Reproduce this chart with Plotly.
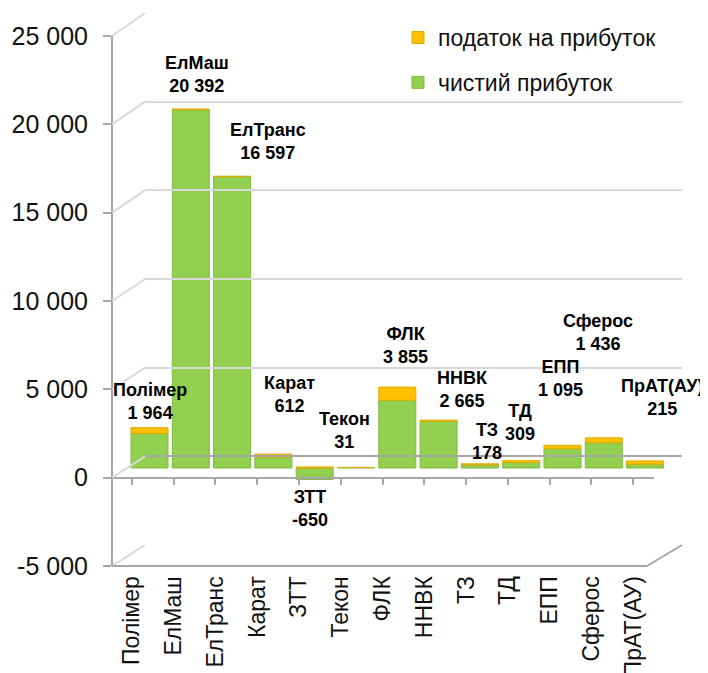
import plotly.graph_objects as go

# ---------------- data ----------------
companies = ["Полімер", "ЕлМаш", "ЕлТранс", "Карат", "ЗТТ", "Текон", "ФЛК",
             "ННВК", "ТЗ", "ТД", "ЕПП", "Сферос", "ПрАТ(АУ)"]
net_profit = [1964, 20392, 16597, 612, -650, 31, 3855, 2665, 178, 309, 1095, 1436, 215]
profit_tax = [330, 40, 0, 180, 60, 0, 750, 60, 60, 110, 200, 280, 190]
y_ticks = [-5000, 0, 5000, 10000, 15000, 20000, 25000]
y_ticktext = ["-5 000", "0", "5 000", "10 000", "15 000", "20 000", "25 000"]

# label anchor positions (category offset, y in axis units) - layout only
label_dx = [0.0, 0.15, 0.87, 0.40, -0.11, -0.27, 0.19, 0.57, 0.17, -0.03, -0.06, -0.14, 0.42]
label_y = [3800, 22400, 18600, 4200, -2300, 2150, 7000, 4450, 1500, 2600, 5100, 7700, 4000]

OFF = 8  # page body margin of the html page
W, H = 708 - OFF, 673 - OFF
GREEN = "#92D050"
ORANGE = "#FFC000"
GRID = "#d9d9d9"
AXIS = "#a6a6a6"
FONT = "Liberation Sans, Arial, sans-serif"


def px_x(p):
    return (p - OFF) / W


def px_y(p):
    return 1 - (p - OFF) / H


# geometry (page pixels) of the pseudo-3D box
FRONT_LEFT, FRONT_RIGHT = 112, 647
BACK_LEFT, BACK_RIGHT = 145, 682
FRONT_TOP, FRONT_BOTTOM = 36, 566      # 25000 / -5000 on front axis
BACK_TOP, BACK_BOTTOM = 13, 545        # 25000 / -5000 on back wall


def front_y(v):
    return FRONT_BOTTOM - (v + 5000) / 30000 * (FRONT_BOTTOM - FRONT_TOP)


def back_y(v):
    return BACK_BOTTOM - (v + 5000) / 30000 * (BACK_BOTTOM - BACK_TOP)


fig = go.Figure()
# empty helper traces so the extra axes are rendered (drawn below bars)
fig.add_trace(go.Scatter(x=[None], y=[None], xaxis="x2", yaxis="y2",
                         showlegend=False, hoverinfo="skip"))
fig.add_trace(go.Scatter(x=[None], y=[None], xaxis="x3", yaxis="y3",
                         showlegend=False, hoverinfo="skip"))
fig.add_trace(go.Bar(
    x=companies, y=net_profit, name="чистий прибуток",
    marker=dict(color=GREEN, line=dict(color="#7fb940", width=1)),
    legendgroup="a", legendrank=2, xaxis="x", yaxis="y"))
fig.add_trace(go.Bar(
    x=companies, y=profit_tax, name="податок на прибуток",
    marker=dict(color=ORANGE, line=dict(color="#e0a800", width=1)),
    legendgroup="b", legendrank=1, xaxis="x", yaxis="y"))

# bar axis: 0 at 468 page px, 17.57 px per 1000
zero_px, scale = 468 - OFF, 17.57
bar_top = zero_px / scale * 1000
bar_bot = -(H - zero_px) / scale * 1000

annotations = []
for i, (name, v) in enumerate(zip(companies, net_profit)):
    txt = f"<b>{name}<br>{format(v, ',').replace(',', ' ')}</b>"
    annotations.append(dict(
        x=i + label_dx[i], y=label_y[i], xref="x", yref="y", text=txt,
        showarrow=False, font=dict(family=FONT, size=18, color="#000000"),
        align="center"))

shapes = []
# diagonal perspective connectors at every gridline
for v in y_ticks:
    shapes.append(dict(type="line", xref="paper", yref="paper",
                       x0=px_x(FRONT_LEFT), y0=px_y(front_y(v)),
                       x1=px_x(BACK_LEFT), y1=px_y(back_y(v)),
                       line=dict(color=GRID, width=2)))
# floor front edge at -5000 and right diagonal
shapes.append(dict(type="line", xref="paper", yref="paper",
                   x0=px_x(FRONT_LEFT), y0=px_y(front_y(-5000)),
                   x1=px_x(FRONT_RIGHT), y1=px_y(front_y(-5000)),
                   line=dict(color=AXIS, width=2)))
shapes.append(dict(type="line", xref="paper", yref="paper",
                   x0=px_x(FRONT_RIGHT), y0=px_y(front_y(-5000)),
                   x1=px_x(BACK_RIGHT), y1=px_y(back_y(-5000)),
                   line=dict(color=AXIS, width=2)))

fig.update_layout(
    width=W, height=H,
    margin=dict(l=0, r=0, t=0, b=0),
    paper_bgcolor="white", plot_bgcolor="rgba(0,0,0,0)",
    separators=". ",
    barmode="relative", bargap=0.104,
    font=dict(family=FONT, color="#000000"),
    showlegend=True,
    legend=dict(x=px_x(398), y=px_y(16), xanchor="left", yanchor="top",
                traceorder="grouped", tracegroupgap=12,
                font=dict(size=23, family=FONT, color="#111111"),
                bgcolor="rgba(0,0,0,0)"),
    # bars
    xaxis=dict(domain=[px_x(128.85), px_x(665.75)], range=[-0.5, 12.5],
               showticklabels=False, ticks="", showline=False, showgrid=False,
               zeroline=False, anchor="y"),
    yaxis=dict(domain=[0, 1], range=[bar_bot, bar_top], visible=False,
               showgrid=False, zeroline=False, anchor="x"),
    # front axis with tick labels
    yaxis2=dict(domain=[px_y(FRONT_BOTTOM), px_y(FRONT_TOP)], range=[-5000, 25000],
                tickvals=y_ticks, ticktext=y_ticktext, anchor="free",
                position=px_x(FRONT_LEFT), showline=True, linecolor=AXIS,
                linewidth=2, ticks="outside", ticklen=8, tickcolor=AXIS,
                tickwidth=2, showgrid=False, zeroline=False,
                ticklabelstandoff=10,
                tickfont=dict(size=25, family=FONT, color="#111111"),
                automargin=False),
    # back wall gridlines
    xaxis3=dict(domain=[px_x(BACK_LEFT), px_x(BACK_RIGHT)], anchor="y3",
                visible=False, showgrid=False, zeroline=False),
    yaxis3=dict(domain=[px_y(BACK_BOTTOM), px_y(BACK_TOP)], range=[-5000, 25000],
                anchor="x3", tickvals=y_ticks, showticklabels=False, ticks="",
                showgrid=True, gridcolor=GRID, gridwidth=2,
                zeroline=True, zerolinecolor=AXIS, zerolinewidth=2,
                showline=False),
    # front floor edge at zero with category labels
    xaxis2=dict(domain=[px_x(111), px_x(654)], range=[-0.5, 12.5],
                tickvals=list(range(len(companies))), ticktext=companies,
                anchor="free", position=px_y(478), side="bottom",
                showline=True, linecolor=AXIS, linewidth=2,
                ticks="outside", ticklen=6, tickcolor=AXIS, tickwidth=2,
                tickson="boundaries", tickangle=-90, ticklabelstandoff=82,
                tickfont=dict(size=23, family=FONT, color="#111111"),
                showgrid=False, zeroline=False, automargin=False),
    annotations=annotations,
    shapes=shapes,
)

fig.write_html("out.html")
